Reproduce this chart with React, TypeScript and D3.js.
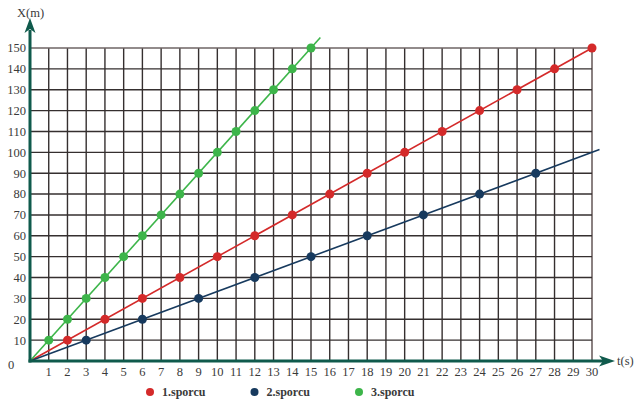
import React from 'react';
import * as d3 from 'd3';

// time ticks (s) and position ticks (m)
const tTicks = d3.range(1, 31);
const xTicks = [10, 20, 30, 40, 50, 60, 70, 80, 90, 100, 110, 120, 130, 140, 150];

// 1.sporcu (red)
const t1 = [2, 4, 6, 8, 10, 12, 14, 16, 18, 20, 22, 24, 26, 28, 30];
const x1 = [10, 20, 30, 40, 50, 60, 70, 80, 90, 100, 110, 120, 130, 140, 150];
// 2.sporcu (navy)
const t2 = [3, 6, 9, 12, 15, 18, 21, 24, 27];
const x2 = [10, 20, 30, 40, 50, 60, 70, 80, 90];
// 3.sporcu (green)
const t3 = [1, 2, 3, 4, 5, 6, 7, 8, 9, 10, 11, 12, 13, 14, 15];
const x3 = [10, 20, 30, 40, 50, 60, 70, 80, 90, 100, 110, 120, 130, 140, 150];

// where each drawn line ends (it starts at the origin)
const lineEndT = [30, 30.4, 15.5];
const lineEndX = [150, 101.3, 155];

const names = ['1.sporcu', '2.sporcu', '3.sporcu'];
const colors = ['#d42a2a', '#173a5e', '#3db54a'];

const W = 641;
const H = 407;
const axisColor = '#0f5a4c';
const gridColor = '#352f2f';
const textColor = '#3a3a3a';
const font = "'Liberation Serif', 'DejaVu Serif', serif";

const App: React.FC = () => {
  const xScale = d3.scaleLinear().domain([0, 30]).range([30, 592]);
  const yScale = d3.scaleLinear().domain([0, 150]).range([361, 48]);

  const series = [
    { t: t1, x: x1 },
    { t: t2, x: x2 },
    { t: t3, x: x3 },
  ];

  const line = d3
    .line<[number, number]>()
    .x(d => xScale(d[0]))
    .y(d => yScale(d[1]));

  const x0 = xScale(0);
  const y0 = yScale(0);

  return (
    <svg
      width={W}
      height={H}
      style={{ position: 'absolute', left: 0, top: 0, background: '#fff', fontFamily: font }}
    >
      {/* vertical grid */}
      {tTicks.map(t => (
        <line
          key={'v' + t}
          x1={xScale(t)}
          x2={xScale(t)}
          y1={yScale(0)}
          y2={yScale(150)}
          stroke={t === 30 ? '#8a8080' : gridColor}
          strokeWidth={t === 30 ? 2 : 1.4}
        />
      ))}
      {/* horizontal grid */}
      {xTicks.map(v => (
        <line
          key={'h' + v}
          x1={xScale(0)}
          x2={xScale(30)}
          y1={yScale(v)}
          y2={yScale(v)}
          stroke={v === 150 ? '#6e6464' : gridColor}
          strokeWidth={1.4}
        />
      ))}

      {/* series lines */}
      {series.map((s, i) => (
        <path
          key={'l' + i}
          d={line([[0, 0], [lineEndT[i], lineEndX[i]]]) || ''}
          fill="none"
          stroke={colors[i]}
          strokeWidth={1.6}
        />
      ))}
      {/* series dots */}
      {series.map((s, i) =>
        s.t.map((t, j) => (
          <circle
            key={'c' + i + '-' + j}
            cx={xScale(t)}
            cy={yScale(s.x[j])}
            r={4.5}
            fill={colors[i]}
          />
        ))
      )}

      {/* axes */}
      <line x1={x0} x2={x0} y1={y0 + 1.5} y2={30} stroke={axisColor} strokeWidth={3} />
      <path d={`M${x0},18 L${x0 - 5.5},33 L${x0},29 L${x0 + 5.5},33 Z`} fill={axisColor} />
      <line x1={x0 - 1.5} x2={604} y1={y0} y2={y0} stroke={axisColor} strokeWidth={3} />
      <path d={`M615,${y0} L599,${y0 - 5.5} L603,${y0} L599,${y0 + 5.5} Z`} fill={axisColor} />

      {/* y tick labels */}
      {xTicks.map(v => (
        <text
          key={'yt' + v}
          x={26}
          y={yScale(v)}
          dy="0.35em"
          textAnchor="end"
          fontSize={12.5}
          fill={textColor}
        >
          {v}
        </text>
      ))}
      <text x={8} y={y0 + 4} dy="0.35em" fontSize={12.5} fill={textColor}>0</text>

      {/* x tick labels */}
      {tTicks.map(t => (
        <text
          key={'xt' + t}
          x={xScale(t)}
          y={376}
          textAnchor="middle"
          fontSize={12.5}
          fill={textColor}
        >
          {t}
        </text>
      ))}

      {/* axis titles */}
      <text x={17} y={17} fontSize={12.5} fill={textColor}>X(m)</text>
      <text x={617} y={y0} dy="0.35em" fontSize={12.5} fill={textColor}>t(s)</text>

      {/* legend */}
      {names.map((n, i) => (
        <g key={'lg' + i} transform={`translate(${150 + i * 104.5},392)`}>
          <circle cx={0} cy={0} r={4} fill={colors[i]} />
          <text x={12} y={0} dy="0.35em" fontSize={12} fontWeight="bold" fill={textColor}>
            {n}
          </text>
        </g>
      ))}
    </svg>
  );
};

export default App;
